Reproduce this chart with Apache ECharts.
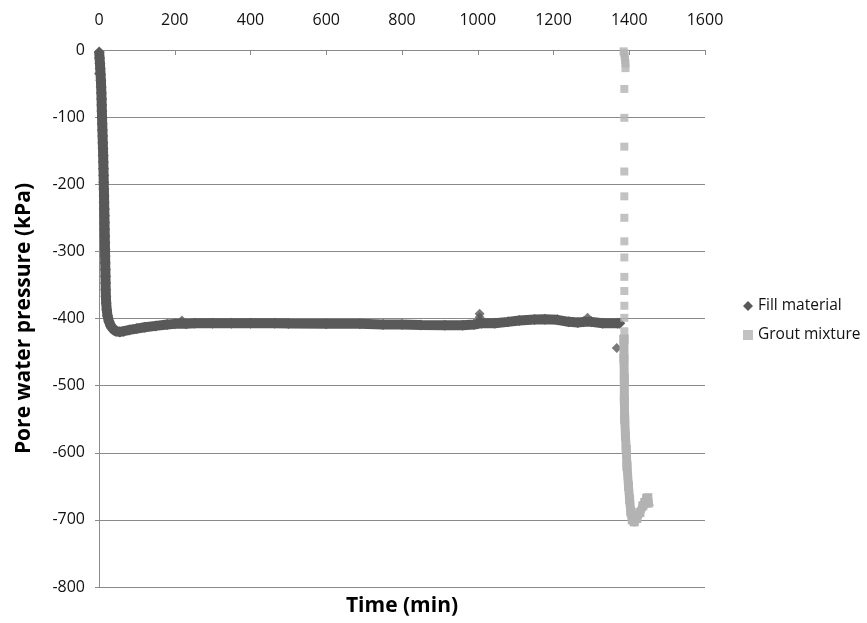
<!DOCTYPE html>
<html>
<head>
<meta charset="utf-8">
<script src="https://cdn.jsdelivr.net/npm/echarts@6/dist/echarts.min.js"></script>
<style>
html,body{margin:0;padding:0;background:#fff;}
#chart{width:867px;height:623px;}
</style>
</head>
<body>
<div id="chart"></div>
<script>
// ---- data ----
var xTicks = [0, 200, 400, 600, 800, 1000, 1200, 1400, 1600];
var yTicks = [0, -100, -200, -300, -400, -500, -600, -700, -800];

// Fill material: main curve
var fillTime = [0.5, 1.5, 2.5, 3.3, 4.2, 5, 5.7, 6.3, 6.8, 7.2, 7.6, 8, 8.5, 9, 9.5, 10, 10.5, 11, 11.4, 11.8,
  12.2, 12.5, 12.9, 13.3, 13.6, 14, 14.3, 14.6, 14.9, 15.2, 15.5, 15.8, 16.1, 16.4, 16.8, 17.1, 17.4, 17.7, 18.2, 19,
  20.5, 22.5, 26, 31, 38, 45, 55, 65, 80, 100, 121, 150, 180, 200, 230, 253, 300, 350, 400, 464,
  500, 600, 689, 750, 800, 850, 913, 960, 990, 1000, 1010, 1045, 1080, 1110, 1150, 1177, 1210, 1240, 1264, 1280,
  1300, 1330, 1369, 1375];
var fillValue = [-3, -12, -20, -28, -36, -45, -55, -64, -73, -82, -91, -100, -110, -119, -128, -138, -147, -157, -167, -177,
  -187, -197, -207, -217, -227, -237, -247, -257, -267, -277, -287, -297, -307, -317, -327, -337, -347, -357, -367, -377,
  -387, -396, -404, -411, -416, -419, -420, -419, -417, -415, -413, -411, -409, -408, -408, -407, -407, -407, -407, -407,
  -407.5, -408, -408, -409, -409, -409.5, -410, -410, -409, -408, -407, -407, -405, -403, -401.5, -401, -402, -405, -406, -405,
  -405, -407, -407, -407];

// Fill material: isolated readings / spikes
var fillOutTime = [0, 219, 1005, 1005, 1005, 1290, 1367];
var fillOutValue = [-35, -403, -393, -398, -403, -399, -444];

// Grout mixture: separate readings of the fast drop
var groutDotTime = [1385, 1387, 1388, 1389, 1390, 1390, 1387, 1387, 1387, 1387, 1387, 1387, 1387, 1387, 1387, 1387, 1387, 1387, 1387, 1387];
var groutDotValue = [-2, -5, -10, -15, -20, -27, -58, -101, -144, -181, -218, -250, -285, -309, -338, -359, -381, -399, -419, -431];

// Grout mixture: continuous readings of the tail
var groutTailTime = [1386, 1386, 1387, 1387, 1388, 1390, 1392, 1394, 1398, 1401, 1404, 1408, 1413, 1420, 1428, 1436, 1441, 1446, 1449, 1450];
var groutTailValue = [-431, -460, -490, -521, -550, -575, -595, -620, -650, -670, -688, -700, -703, -698, -689, -679, -674, -668, -667, -675];

// ---- chart ----
function zip(a, b) { var r = []; for (var i = 0; i < a.length; i++) r.push([a[i], b[i]]); return r; }

var FILL = '#595959';
var GROUT = '#b3b3b3';
var GRIDC = '#8a8a8a';
var FONT = '"Open Sans", "Noto Sans", sans-serif';

var chart = echarts.init(document.getElementById('chart'), null, {renderer: 'canvas'});
chart.setOption({
  animation: false,
  backgroundColor: '#fff',
  grid: {left: 99, right: 162, top: 50, bottom: 36, containLabel: false},
  legend: {
    orient: 'vertical',
    left: 738,
    top: 293,
    itemWidth: 10,
    itemHeight: 10,
    itemGap: 13,
    textStyle: {fontFamily: FONT, fontSize: 15.5, color: '#111'},
    data: [{name: 'Fill material', icon: 'diamond'}, {name: 'Grout mixture', icon: 'rect'}]
  },
  xAxis: {
    type: 'value',
    position: 'top',
    min: xTicks[0],
    max: xTicks[xTicks.length - 1],
    interval: 200,
    axisLine: {show: true, onZero: false, lineStyle: {color: GRIDC, width: 1}},
    axisTick: {show: true, inside: true, length: 5, lineStyle: {color: GRIDC}},
    axisLabel: {margin: 22, fontFamily: FONT, fontSize: 16, color: '#111',
                formatter: function (v) { return String(v); }},
    splitLine: {show: false}
  },
  yAxis: {
    type: 'value',
    min: yTicks[yTicks.length - 1],
    max: yTicks[0],
    interval: 100,
    name: 'Pore water pressure (kPa)',
    nameLocation: 'middle',
    nameGap: 64,
    nameTextStyle: {fontFamily: FONT, fontSize: 21, fontWeight: 'bold', color: '#000'},
    axisLine: {show: true, onZero: false, lineStyle: {color: GRIDC, width: 1}},
    axisTick: {show: true, length: 4, lineStyle: {color: GRIDC}},
    axisLabel: {margin: 14, fontFamily: FONT, fontSize: 16, color: '#111',
                formatter: function (v) { return String(v); }},
    splitLine: {show: true, lineStyle: {color: GRIDC, width: 1}}
  },
  graphic: [{
    type: 'text',
    x: 402, y: 606,
    style: {text: 'Time (min)', textAlign: 'center', textVerticalAlign: 'middle',
            font: 'bold 21px "Open Sans", "Noto Sans", sans-serif', fill: '#000'}
  }],
  series: [
    {
      name: 'Fill material', type: 'line', data: zip(fillTime, fillValue),
      color: FILL, lineStyle: {color: FILL, width: 10}, symbol: 'diamond', symbolSize: 11,
      showSymbol: true, showAllSymbol: true, itemStyle: {color: FILL}, z: 3
    },
    {
      name: 'Fill material', type: 'scatter', data: zip(fillOutTime, fillOutValue),
      symbol: 'diamond', symbolSize: 10, itemStyle: {color: FILL}, z: 3
    },
    {
      name: 'Grout mixture', type: 'scatter', data: zip(groutDotTime, groutDotValue),
      symbol: 'rect', symbolSize: 8, itemStyle: {color: GROUT}, z: 4, clip: false
    },
    {
      name: 'Grout mixture', type: 'line', data: zip(groutTailTime, groutTailValue),
      color: GROUT, lineStyle: {color: GROUT, width: 9, cap: 'square', join: 'round'}, symbol: 'rect', symbolSize: 9,
      showSymbol: true, itemStyle: {color: GROUT}, z: 4
    }
  ]
});
</script>
</body>
</html>
